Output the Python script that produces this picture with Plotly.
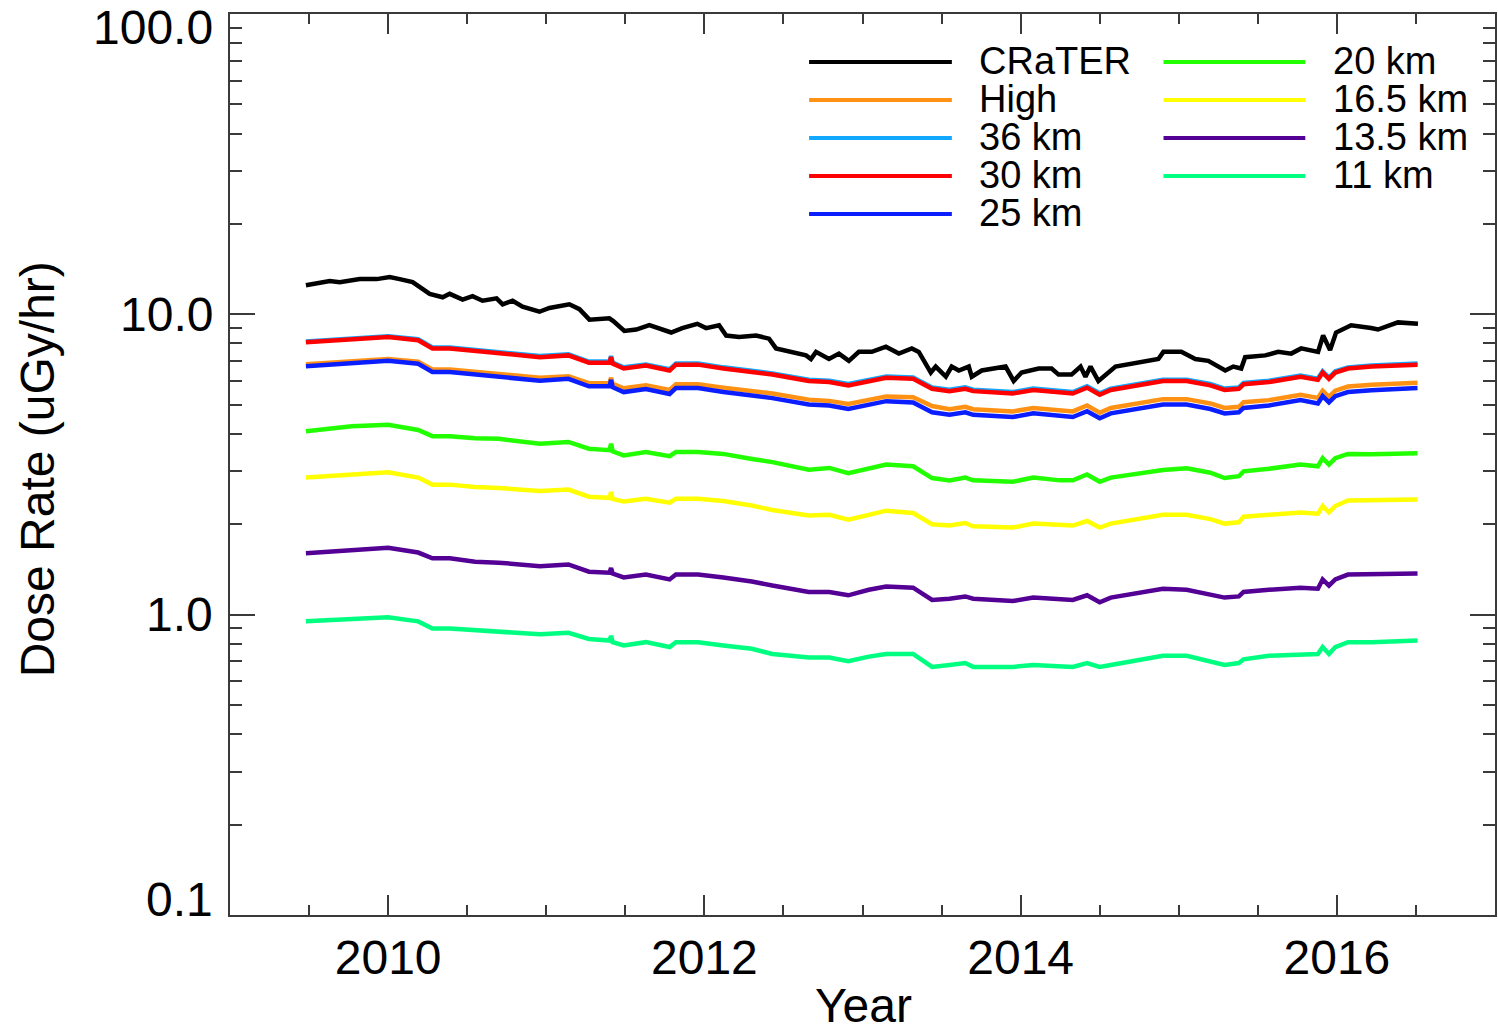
import math
import plotly.graph_objects as go

# ---------------------------------------------------------------- data
# CRaTER measured dose rate (uGy/hr) versus decimal year
crater_years = [
    2009.480, 2009.631, 2009.694, 2009.821, 2009.928, 2010.010, 2010.073, 2010.155, 2010.263, 2010.345,
    2010.389, 2010.471, 2010.534, 2010.597, 2010.686, 2010.724, 2010.787, 2010.850, 2010.957, 2011.020,
    2011.146, 2011.210, 2011.273, 2011.399, 2011.424, 2011.494, 2011.569, 2011.652, 2011.790, 2011.860,
    2011.955, 2012.011, 2012.093, 2012.138, 2012.220, 2012.327, 2012.409, 2012.453, 2012.643, 2012.674,
    2012.706, 2012.788, 2012.851, 2012.914, 2012.977, 2013.059, 2013.148, 2013.230, 2013.312, 2013.356,
    2013.432, 2013.463, 2013.527, 2013.564, 2013.609, 2013.672, 2013.691, 2013.754, 2013.905, 2013.956,
    2014.006, 2014.114, 2014.196, 2014.240, 2014.322, 2014.379, 2014.410, 2014.442, 2014.492, 2014.537,
    2014.600, 2014.871, 2014.903, 2015.016, 2015.105, 2015.187, 2015.294, 2015.345, 2015.395, 2015.420,
    2015.547, 2015.629, 2015.711, 2015.774, 2015.881, 2015.913, 2015.957, 2015.995, 2016.090, 2016.216,
    2016.260, 2016.386, 2016.513,
]
crater = [
    12.5, 12.9, 12.8, 13.1, 13.1, 13.3, 13.1, 12.8, 11.7, 11.4,
    11.7, 11.2, 11.5, 11.1, 11.3, 10.8, 11.1, 10.6, 10.2, 10.5,
    10.8, 10.4, 9.6, 9.7, 9.5, 8.8, 8.9, 9.2, 8.7, 9.0,
    9.3, 9.0, 9.2, 8.5, 8.4, 8.5, 8.3, 7.7, 7.3, 7.1,
    7.5, 7.1, 7.4, 7.0, 7.5, 7.5, 7.8, 7.4, 7.7, 7.5,
    6.4, 6.7, 6.2, 6.7, 6.5, 6.7, 6.2, 6.5, 6.7, 6.0,
    6.4, 6.6, 6.6, 6.3, 6.3, 6.7, 6.2, 6.7, 6.0, 6.3,
    6.7, 7.1, 7.5, 7.5, 7.1, 7.0, 6.5, 6.7, 6.6, 7.2,
    7.3, 7.5, 7.4, 7.7, 7.5, 8.5, 7.6, 8.7, 9.2, 9.0,
    8.9, 9.4, 9.3,
]

# Model dose rates (uGy/hr) on a common time grid
model_years = [
    2009.48, 2009.77, 2010.00, 2010.19, 2010.28, 2010.39, 2010.55, 2010.70, 2010.96, 2011.14,
    2011.27, 2011.40, 2011.41, 2011.42, 2011.49, 2011.63, 2011.78, 2011.82, 2011.96, 2012.12,
    2012.30, 2012.43, 2012.66, 2012.79, 2012.91, 2013.04, 2013.15, 2013.32, 2013.44, 2013.55,
    2013.65, 2013.70, 2013.95, 2014.08, 2014.25, 2014.33, 2014.42, 2014.50, 2014.57, 2014.90,
    2015.05, 2015.20, 2015.29, 2015.38, 2015.41, 2015.57, 2015.77, 2015.88, 2015.91, 2015.95,
    2015.99, 2016.07, 2016.22, 2016.51,
]
high = [
    6.82, 6.97, 7.10, 6.95, 6.55, 6.55, 6.42, 6.35, 6.15, 6.22,
    5.90, 5.90, 6.15, 5.87, 5.67, 5.80, 5.60, 5.85, 5.85, 5.70,
    5.57, 5.45, 5.20, 5.15, 5.03, 5.20, 5.33, 5.30, 4.95, 4.83,
    4.92, 4.83, 4.75, 4.88, 4.80, 4.75, 4.97, 4.70, 4.88, 5.22,
    5.22, 5.05, 4.88, 4.92, 5.10, 5.18, 5.40, 5.27, 5.57, 5.31,
    5.57, 5.75, 5.83, 5.92,
]
km36 = [
    8.12, 8.31, 8.46, 8.26, 7.76, 7.76, 7.61, 7.51, 7.26, 7.36,
    6.96, 6.96, 7.26, 6.91, 6.66, 6.81, 6.56, 6.86, 6.86, 6.66,
    6.51, 6.36, 6.06, 6.01, 5.86, 6.06, 6.21, 6.16, 5.71, 5.61,
    5.71, 5.61, 5.51, 5.66, 5.56, 5.51, 5.76, 5.46, 5.66, 6.06,
    6.06, 5.86, 5.66, 5.71, 5.91, 6.01, 6.26, 6.11, 6.46, 6.16,
    6.46, 6.66, 6.76, 6.86,
]
km30 = [
    8.07, 8.25, 8.40, 8.20, 7.70, 7.70, 7.55, 7.45, 7.20, 7.30,
    6.90, 6.90, 7.20, 6.85, 6.60, 6.75, 6.50, 6.80, 6.80, 6.60,
    6.45, 6.30, 6.00, 5.95, 5.80, 6.00, 6.15, 6.10, 5.65, 5.55,
    5.65, 5.55, 5.45, 5.60, 5.50, 5.45, 5.70, 5.40, 5.60, 6.00,
    6.00, 5.80, 5.60, 5.65, 5.85, 5.95, 6.20, 6.05, 6.40, 6.10,
    6.40, 6.60, 6.70, 6.80,
]
km25 = [
    6.72, 6.88, 7.00, 6.85, 6.43, 6.43, 6.30, 6.22, 6.01, 6.10,
    5.76, 5.76, 6.05, 5.72, 5.51, 5.64, 5.43, 5.68, 5.68, 5.51,
    5.39, 5.26, 5.01, 4.97, 4.84, 5.01, 5.14, 5.09, 4.72, 4.63,
    4.72, 4.63, 4.55, 4.68, 4.59, 4.55, 4.76, 4.51, 4.68, 5.01,
    5.01, 4.84, 4.68, 4.72, 4.88, 4.97, 5.18, 5.05, 5.34, 5.09,
    5.34, 5.51, 5.59, 5.68,
]
km20 = [
    4.08, 4.24, 4.29, 4.12, 3.93, 3.93, 3.87, 3.85, 3.71, 3.76,
    3.57, 3.53, 3.71, 3.50, 3.39, 3.48, 3.37, 3.48, 3.48, 3.43,
    3.30, 3.22, 3.04, 3.08, 2.96, 3.08, 3.16, 3.12, 2.85, 2.80,
    2.86, 2.80, 2.77, 2.86, 2.80, 2.80, 2.93, 2.77, 2.86, 3.03,
    3.07, 2.97, 2.85, 2.89, 3.00, 3.06, 3.16, 3.12, 3.32, 3.16,
    3.32, 3.43, 3.42, 3.45,
]
km16_5 = [
    2.86, 2.93, 2.98, 2.86, 2.71, 2.71, 2.66, 2.64, 2.58, 2.61,
    2.47, 2.45, 2.56, 2.43, 2.38, 2.43, 2.36, 2.43, 2.43, 2.39,
    2.31, 2.23, 2.14, 2.15, 2.07, 2.15, 2.22, 2.18, 2.00, 1.98,
    2.02, 1.97, 1.95, 2.01, 1.98, 1.98, 2.05, 1.95, 2.01, 2.15,
    2.15, 2.08, 2.01, 2.03, 2.12, 2.15, 2.19, 2.17, 2.30, 2.19,
    2.30, 2.40, 2.40, 2.42,
]
km13_5 = [
    1.60, 1.64, 1.67, 1.61, 1.54, 1.54, 1.50, 1.49, 1.45, 1.47,
    1.39, 1.38, 1.43, 1.37, 1.33, 1.36, 1.31, 1.36, 1.36, 1.33,
    1.29, 1.25, 1.19, 1.19, 1.16, 1.21, 1.24, 1.23, 1.12, 1.13,
    1.15, 1.13, 1.11, 1.14, 1.12, 1.12, 1.16, 1.10, 1.14, 1.22,
    1.21, 1.17, 1.14, 1.15, 1.19, 1.21, 1.23, 1.22, 1.31, 1.25,
    1.31, 1.36, 1.36, 1.37,
]
km11 = [
    0.950, 0.965, 0.980, 0.950, 0.900, 0.900, 0.890, 0.880, 0.860, 0.870,
    0.830, 0.820, 0.850, 0.810, 0.790, 0.810, 0.780, 0.810, 0.810, 0.790,
    0.770, 0.740, 0.720, 0.720, 0.700, 0.725, 0.740, 0.740, 0.670, 0.680,
    0.690, 0.670, 0.670, 0.680, 0.670, 0.670, 0.690, 0.670, 0.680, 0.730,
    0.730, 0.700, 0.680, 0.690, 0.710, 0.730, 0.740, 0.740, 0.780, 0.740,
    0.780, 0.810, 0.810, 0.820,
]

y_tick_values = [0.1, 1, 10, 100]
y_tick_labels = ["0.1", "1.0", "10.0", "100.0"]
x_tick_values = [2010, 2012, 2014, 2016]
x_tick_labels = ["2010", "2012", "2014", "2016"]

# ---------------------------------------------------------------- styling
FONT = "Liberation Sans, Arial, Helvetica, sans-serif"
AXIS_COLOR = "#3a3a3a"
W, H = 1498, 1036
PLOT_L, PLOT_R, PLOT_T, PLOT_B = 230, 1497, 14, 915

# name, x values, y values, colour, legend column, legend row
series = [
    ("CRaTER", crater_years, crater, "#000000", 0, 0),
    ("High", model_years, high, "#FF9214", 0, 1),
    ("36 km", model_years, km36, "#12A8FF", 0, 2),
    ("30 km", model_years, km30, "#FF0000", 0, 3),
    ("25 km", model_years, km25, "#0A1EFF", 0, 4),
    ("20 km", model_years, km20, "#22FF00", 1, 0),
    ("16.5 km", model_years, km16_5, "#FFFF00", 1, 1),
    ("13.5 km", model_years, km13_5, "#540094", 1, 2),
    ("11 km", model_years, km11, "#00FF80", 1, 3),
]


def paper_x(px):
    return (px - PLOT_L) / (PLOT_R - PLOT_L)


def paper_y(py):
    return (PLOT_B - py) / (PLOT_B - PLOT_T)


fig = go.Figure()
for name, xs, ys, color, _, _ in series:
    fig.add_trace(go.Scatter(
        x=xs, y=ys, mode="lines", name=name, showlegend=False,
        line=dict(color=color, width=4.5),
    ))

# hand-built two-column legend
legend_cols = [(810, 953, 978), (1165, 1307, 1333)]
legend_row0, legend_dy = 62, 38
shapes = []
annotations = []
for name, _, _, color, col, row in series:
    x0, x1, xt = legend_cols[col]
    yy = legend_row0 + row * legend_dy
    shapes.append(dict(type="line", xref="paper", yref="paper",
                       x0=paper_x(x0), x1=paper_x(x1), y0=paper_y(yy), y1=paper_y(yy),
                       line=dict(color=color, width=4)))
    annotations.append(dict(text=name, xref="paper", yref="paper",
                            x=paper_x(xt), y=paper_y(yy - 1), xanchor="left", yanchor="middle",
                            showarrow=False, font=dict(family=FONT, size=38, color="#000")))

# y tick labels (end labels pulled inside the axis range)
label_shift = {"100.0": -13, "0.1": 16}
for v, lab in zip(y_tick_values, y_tick_labels):
    annotations.append(dict(text=lab, xref="paper", yref="y",
                            x=0, y=math.log10(v), xanchor="right", yanchor="middle",
                            xshift=-15, yshift=label_shift.get(lab, 0), showarrow=False,
                            font=dict(family=FONT, size=48, color="#000")))

# axis titles
annotations.append(dict(text="Year", xref="paper", yref="paper",
                        x=paper_x(865), y=0, yshift=-(H - PLOT_B) + 2,
                        xanchor="center", yanchor="bottom",
                        showarrow=False, font=dict(family=FONT, size=48, color="#000")))
annotations.append(dict(text="Dose Rate (uGy/hr)", xref="paper", yref="paper",
                        x=paper_x(37), y=paper_y(469), xanchor="center", yanchor="middle",
                        textangle=-90, showarrow=False,
                        font=dict(family=FONT, size=48, color="#000")))

x_minor = [2009.5, 2010.5, 2011, 2011.5, 2012.5, 2013, 2013.5, 2014.5, 2015, 2015.5, 2016.5]
y_minor = [m * d for d in (0.1, 1, 10) for m in range(2, 10)]

fig.update_layout(
    width=W, height=H,
    margin=dict(l=PLOT_L, r=W - PLOT_R, t=PLOT_T, b=H - PLOT_B),
    paper_bgcolor="white", plot_bgcolor="white",
    font=dict(family=FONT, color="#000"),
    shapes=shapes, annotations=annotations,
    xaxis=dict(
        range=[2009, 2017], showgrid=False, zeroline=False,
        showline=True, linecolor=AXIS_COLOR, linewidth=1.5, mirror="allticks",
        tickmode="array", tickvals=x_tick_values, ticktext=x_tick_labels,
        ticks="inside", ticklen=20, tickwidth=1.5, tickcolor=AXIS_COLOR,
        tickfont=dict(family=FONT, size=48, color="#000"),
        minor=dict(tickvals=x_minor, ticks="inside", ticklen=10, tickwidth=1.5,
                   tickcolor=AXIS_COLOR, showgrid=False),
    ),
    yaxis=dict(
        type="log", range=[-1, 2], showgrid=False, zeroline=False,
        showline=True, linecolor=AXIS_COLOR, linewidth=1.5, mirror="allticks",
        tickmode="array", tickvals=y_tick_values, showticklabels=False,
        ticks="inside", ticklen=25, tickwidth=1.5, tickcolor=AXIS_COLOR,
        minor=dict(tickvals=y_minor, ticks="inside", ticklen=12, tickwidth=1.5,
                   tickcolor=AXIS_COLOR, showgrid=False),
    ),
)

fig.write_html("out.html")
